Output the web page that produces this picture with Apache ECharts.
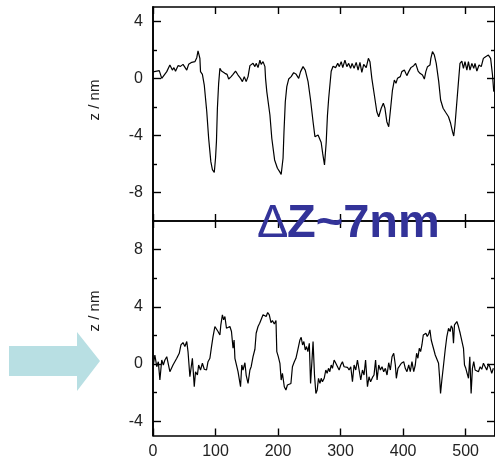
<!DOCTYPE html>
<html>
<head>
<meta charset="utf-8">
<script src="https://cdn.jsdelivr.net/npm/echarts@6/dist/echarts.min.js"></script>
<style>html,body{margin:0;padding:0;background:#fff;}#c{width:495px;height:461px;}</style>
</head>
<body>
<div id="c"></div>
<script>
// ---- data ----
const topX = [0,10,14,16.5,22,27,31,33.5,36,40,44,48,51,54,57,62,67,70,72,75,76,79,82,86,89,92.5,95,98,100,101.5,103,105,107,109.5,115,118.5,121,125,128,132,136,140,143,146,149,152,155,157,160,163,165,168,171,173,176,179,180,182,187,190,194.5,199,202.5,205,208,209.5,211.6,214,217,221,225,229,233,236,240,243.5,248,252,256,259,264,267,269,271.5,274.3,277,279,281,283,285,288,292,295.5,298,301,303.5,307,310,313,316,318.4,321.6,325,328,331,334,337,341,344.5,347,350,354,358,361,365,368.4,371,374,377,379.5,383,386,388.6,391,395.5,398,402,406,409,412.5,417,420,424,427,431,434,436.4,439,443,444.4,447,450,453,457,460,464,468,472.6,476,479,481,483,486,489,491,494,496.5,499,502,504.5,507,510,513,515,518,521.5,525,528.4,532,536.4,540,543,545];
const topY = [0.45,0.54,0,0.05,0.47,0.93,0.58,0.75,0.5,0.89,0.84,0.98,0.93,0.58,0.98,1.12,1.17,1.45,1.92,1.4,0.47,0.28,-0.47,-2.34,-4.2,-5.84,-6.4,-6.6,-5.6,-4.4,-2.1,-0.35,0.7,0.51,0.35,0.28,-0.05,0.12,0.28,0.51,0.23,0,-0.23,0.12,-0.23,0.12,0.89,0.75,1.05,0.82,1.05,0.75,1.28,0.98,1.17,0.82,0,-0.93,-2.57,-4.2,-5.72,-6.3,-6.54,-6.73,-5.6,-3.74,-1.64,-0.58,-0.05,0.12,0.4,0.28,0,0.47,0.82,0.58,-0.23,-1.52,-3.04,-4.09,-3.97,-4.1,-4.5,-5.3,-6.07,-4.5,-2.6,-1.4,-1.3,0.5,0.85,0.75,1.05,0.82,1.17,0.75,1.28,0.82,1.05,0.7,1.05,0.7,1.12,0.58,1.12,0.42,0.98,0.75,1.4,1.17,0,-1.17,-2.34,-2.69,-2.1,-1.75,-2.1,-3.04,-3.39,-2.34,-0.82,-0.12,-0.35,0,0.12,0.47,0.58,0.19,0.47,0.75,0.89,1.05,0.51,0.35,0.23,-0.05,0.47,0.82,0.93,1.4,1.87,1.63,1.05,-0.23,-1.52,-2.1,-2.38,-2.69,-3.15,-3.74,-4.04,-3.27,-1.64,0,1.05,1.21,0.7,1.17,0.58,1.17,0.58,1.05,0.7,1.05,0.51,0.93,0.82,1.4,1.52,1.63,1.4,0.23,-0.93];

const botX = [0.5,3,6,8.5,11,14,16.5,19,22,24.5,27,32,38,42,44.7,48,51,54,56,59,61,63,66,68,71,73,76,79,82,85.6,88,91,93.6,96,99,101.5,104,107,108.5,111,113,115,117.5,120,123,125.5,128,129.7,131,133,136,137.7,140,142,144,147,149,152,155,157,160,163,165,168,170.6,173,176,178.6,181,183.4,186,188.7,191,194,196.7,198,200.4,203,205,207,210,212.6,215,218,220.6,223,226,228.6,231,233,235,237,239.2,241.3,243.5,245.6,247.7,250,252,254,256,258.3,260.5,262.6,264.7,267,269,271,273.8,276.4,278.5,280.7,282.8,285,287,289.7,292.4,295,297.7,300.3,303,305.6,308.3,311,313.6,316.3,319,321.6,324.3,327,329.6,332.3,335,337.5,340,343,345.5,348,351,353.5,356,358.4,361,363.7,366.3,369,371.6,374.3,377,379.6,382.3,385,387.6,389.2,391.8,394.5,397.2,401,403.5,406.2,409,411.5,414.2,417,419.5,421.6,423.7,425.9,428,430.1,432.3,434.4,436.5,438.6,440.8,442.9,445,447.1,449.3,451.4,453.5,454.6,456.7,458.3,459.9,462,464.7,467.3,470,472.7,475.3,477,479,480.6,482.2,484.4,486,488.6,491.3,494,496.6,498.2,500.3,502.4,504.6,506.7,508.8,510.9,513,515.2,517.8,520.5,523.2,525.8,528.5,531,533.8,536.5,539,541.8,544.4];
const botY = [-0.07,0.63,-0.19,0.16,-1.12,0.28,-0.07,0.28,0.51,0.4,-0.54,-0.07,0.4,0.75,1.33,1.5,1.22,1.57,0.87,-0.89,-1.0,0.4,-1.59,-0.54,-0.77,-0.07,-0.42,0.05,-0.37,-0.42,0.16,0.4,1.22,1.92,2.62,2.5,2.27,2.03,2.74,3.44,3.09,3.32,2.5,2.39,2.62,2.27,1.1,1.68,0.4,0.51,-0.54,-0.65,-1.59,-0.07,-0.42,0.09,-0.77,-1.36,-0.42,-0.19,0.51,1.03,2.15,2.62,2.85,2.97,3.44,3.56,3.32,3.6,3.44,2.9,3.04,2.8,3.04,0.87,0.51,0.05,-1.12,-0.65,-1.59,-1.82,-1.47,-1.59,-1.36,-0.19,0.16,0.4,0.87,0.75,1.68,1.87,1.33,1.57,0.98,1.22,0.87,1.45,-1.36,0.05,1.57,-0.77,-2.06,-1.82,-1.0,-1.36,-1.0,-1.24,-1.0,-0.42,-0.65,-0.3,-0.54,-0.07,-0.3,0.28,0.05,0.16,-0.42,-0.07,0.16,-0.19,-0.3,-0.23,-0.42,-0.19,-1.24,-0.07,-0.42,0.28,0.4,-1.12,-0.42,-0.77,0.28,-1.59,-0.89,-1.24,-0.94,-0.77,0.28,-1.12,-0.07,-0.42,-0.19,-0.54,-0.3,-0.77,0.09,-0.42,0.51,0.75,-0.07,-1.0,-0.3,-0.42,0.05,0.16,-0.3,-0.54,-0.07,-0.54,0.16,-0.54,-0.07,0.75,0.4,1.1,0.87,1.33,2.03,1.92,2.15,1.92,2.1,2.39,1.68,1.33,0.98,0.63,0.4,0.51,0.05,-0.89,-2.06,-1.12,-0.07,0.98,1.92,2.5,2.27,2.67,2.5,1.45,2.74,2.85,2.97,2.62,2.15,2.03,1.1,-0.07,-0.3,-0.65,-1.0,0.51,-2.06,-0.3,0.16,-0.42,-0.3,-0.54,-0.19,-0.37,0.05,0.16,-0.42,0,-0.23,-0.65,-0.3];

const xTicks = [0,100,200,300,400,500];
const topMajor = [-8,-4,0,4];
const topMinor = [-6,-2,2];
const botMajor = [-4,0,4,8];
const botMinor = [-2,2,6];
const annotation = 'Z~7nm';
const yName = 'z / nm';

// ---- chart ----
const FONT = '"Liberation Sans", Arial, sans-serif';
const X_MAX = 547;
const lineStyle = {color:'#000', width:1.6};

function xAxis(grid, pos, labels){
  return {type:'value', gridIndex:grid, position:pos, min:0, max:X_MAX,
    axisLine:{show:true, onZero:false, lineStyle},
    axisTick:{show:true, inside:true, length:7, lineStyle:{color:'#000',width:1.4}, customValues:xTicks},
    axisLabel:{show:labels, customValues:xTicks, color:'#222', fontSize:16, fontFamily:FONT, margin:8},
    splitLine:{show:false}};
}
function yAxis(grid, pos, min, max, vals, len, labels){
  return {type:'value', gridIndex:grid, position:pos, min, max,
    axisLine:{show:true, onZero:false, lineStyle},
    axisTick:{show:true, inside:true, length:len, lineStyle:{color:'#000',width:1.4}, customValues:vals},
    axisLabel:{show:labels, customValues:vals, color:'#222', fontSize:16, fontFamily:FONT, margin:10},
    splitLine:{show:false}};
}

const chart = echarts.init(document.getElementById('c'), null, {renderer:'canvas'});
chart.setOption({
  animation:false,
  backgroundColor:'#fff',
  grid:[
    {left:153, top:7, width:343, height:214},
    {left:153, top:221, width:343, height:214.5}
  ],
  xAxis:[
    xAxis(0,'bottom',false), xAxis(0,'top',false),
    xAxis(1,'bottom',true), xAxis(1,'top',false)
  ],
  yAxis:[
    yAxis(0,'left',-10,5,topMajor,8,true),
    yAxis(0,'left',-10,5,topMinor,4,false),
    yAxis(0,'right',-10,5,topMajor,8,false),
    yAxis(0,'right',-10,5,topMinor,4,false),
    yAxis(1,'left',-5,10,botMajor,8,true),
    yAxis(1,'left',-5,10,botMinor,4,false),
    yAxis(1,'right',-5,10,botMajor,8,false),
    yAxis(1,'right',-5,10,botMinor,4,false)
  ],
  series:[
    {type:'line', xAxisIndex:0, yAxisIndex:0, data:topX.map((x,i)=>[x,topY[i]]),
     showSymbol:false, lineStyle:{color:'#000', width:1.2}, clip:true},
    {type:'line', xAxisIndex:2, yAxisIndex:4, data:botX.map((x,i)=>[x,botY[i]]),
     showSymbol:false, lineStyle:{color:'#000', width:1.2}, clip:true}
  ],
  graphic:[
    {type:'polygon', z:50, shape:{points:[[9,346],[77,346],[77,332],[100,361],[77,391],[77,376],[9,376]]},
     style:{fill:'#b8dfe3'}},
    {type:'text', z:100, x:95, y:100, rotation:Math.PI/2,
     style:{text:yName, font:'15px '+FONT, fill:'#222', textAlign:'center', textVerticalAlign:'middle'}},
    {type:'text', z:100, x:95, y:311, rotation:Math.PI/2,
     style:{text:yName, font:'15px '+FONT, fill:'#222', textAlign:'center', textVerticalAlign:'middle'}},
    {type:'text', z:100, x:257, y:224,
     style:{text:'\u0394', font:'normal 47px '+FONT, fill:'#333399', textAlign:'left', textVerticalAlign:'middle'}},
    {type:'text', z:100, x:287, y:224,
     style:{text:annotation, font:'bold 47px '+FONT, fill:'#333399', textAlign:'left', textVerticalAlign:'middle'}}
  ]
});
</script>
</body>
</html>
